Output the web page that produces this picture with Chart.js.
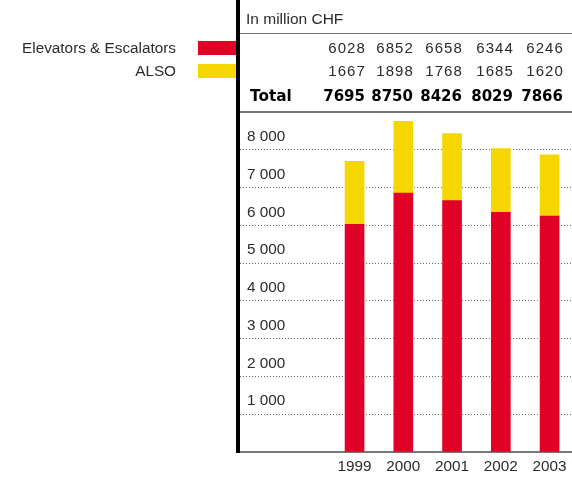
<!DOCTYPE html>
<html>
<head>
<meta charset="utf-8">
<script src="https://cdn.jsdelivr.net/npm/chart.js@4/dist/chart.umd.min.js"></script>
<style>
  html, body { margin: 0; padding: 0; background: #fff; }
  #wrap { position: relative; width: 572px; height: 477px; overflow: hidden;
          font-family: "Liberation Sans", Arial, Helvetica, sans-serif; color: #2b2b2b; }
  #chart { position: absolute; left: 0; top: 0; }
  .abs { position: absolute; white-space: nowrap; line-height: 18px; }
  .rule { position: absolute; background: #777; }
  .swatch { position: absolute; left: 198px; width: 39px; height: 14px; }
  .num { position: absolute; font-size: 15px; letter-spacing: 1.1px; text-align: right; line-height: 18px; }
  .tot { font-family: "DejaVu Sans", sans-serif; font-weight: bold; font-size: 15px; letter-spacing: 0; color: #000; }
</style>
</head>
<body>
<div id="wrap">
  <canvas id="chart" width="572" height="477"></canvas>
  <div id="table"></div>
  <div class="rule" style="left:240px; top:33px; width:332px; height:1px;"></div>
  <div class="rule" style="left:240px; top:111px; width:332px; height:2px;"></div>
  <div style="position:absolute; left:236px; top:0; width:4px; height:453px; background:#000;"></div>
</div>
<script>
// Sales by segment, in million CHF
const years = [1999, 2000, 2001, 2002, 2003];
const elevators = [6028, 6852, 6658, 6344, 6246];
const also = [1667, 1898, 1768, 1685, 1620];
const seriesNames = ['Elevators & Escalators', 'ALSO'];
const unitLabel = 'In million CHF';
const totalLabel = 'Total';

const RED = '#e10026';
const YELLOW = '#f5d600';

const totals = years.map((_, i) => elevators[i] + also[i]);

// ---- header table: legend, values per year and totals ----
const table = document.getElementById('table');
function addText(txt, style, cls) {
  const d = document.createElement('div');
  d.className = cls || 'abs';
  d.textContent = txt;
  Object.assign(d.style, style);
  table.appendChild(d);
  return d;
}
addText(unitLabel, { left: '246px', top: '10px', fontSize: '15.5px' });

const rowTops = [39, 62, 87];
const colRights = [207, 159, 110, 59, 9];
const swatchColors = [RED, YELLOW];

seriesNames.forEach((name, r) => {
  addText(name, { right: (572 - 176) + 'px', top: rowTops[r] + 'px', fontSize: '15.3px' });
  const sw = document.createElement('div');
  sw.className = 'swatch';
  sw.style.top = (rowTops[r] + 2) + 'px';
  sw.style.background = swatchColors[r];
  table.appendChild(sw);
});
addText(totalLabel, { left: '250px', top: rowTops[2] + 'px', fontSize: '15.3px' }, 'abs tot');

[elevators, also].forEach((vals, r) => {
  vals.forEach((v, i) => {
    addText(String(v), { right: (colRights[i] - 1) + 'px', top: rowTops[r] + 'px' }, 'num');
  });
});
totals.forEach((v, i) => {
  addText(String(v), { right: colRights[i] + 'px', top: rowTops[2] + 'px' }, 'num tot');
});

// ---- stacked bar chart ----
const tickFont = { family: '"Liberation Sans", Arial, sans-serif', size: 15.3, lineHeight: 1 };

new Chart(document.getElementById('chart'), {
  type: 'bar',
  data: {
    labels: years,
    datasets: [
      { label: seriesNames[0], data: elevators, backgroundColor: RED, barThickness: 19, borderWidth: 0 },
      { label: seriesNames[1], data: also, backgroundColor: YELLOW, barThickness: 19, borderWidth: 0 }
    ]
  },
  options: {
    responsive: false,
    animation: false,
    layout: { padding: { left: 226, right: 0, top: 112, bottom: 0 } },
    plugins: { legend: { display: false }, tooltip: { enabled: false } },
    scales: {
      x: {
        type: 'linear',
        stacked: true,
        offset: false,
        min: 1996.65,
        max: 2003.46,
        afterBuildTicks: (scale) => { scale.ticks = years.map(v => ({ value: v })); },
        afterFit: (scale) => { scale.height = 25; scale.paddingLeft = 0; scale.paddingRight = 0; },
        grid: { display: false, drawTicks: false },
        border: { display: true, color: '#777', width: 2 },
        ticks: {
          padding: 7,
          color: '#2b2b2b',
          font: tickFont,
          maxRotation: 0,
          autoSkip: false,
          callback: (v) => String(v)
        }
      },
      y: {
        stacked: true,
        min: 0,
        max: 9000,
        afterFit: (scale) => { scale.width = 14; scale.paddingTop = 0; scale.paddingBottom = 0; },
        grid: {
          drawTicks: false,
          lineWidth: 1,
          color: (ctx) => (ctx.tick && (ctx.tick.value === 0 || ctx.tick.value === 9000)) ? 'rgba(0,0,0,0)' : '#707070'
        },
        border: { display: false, dash: [1, 2] },
        ticks: {
          stepSize: 1000,
          mirror: true,
          padding: 7,
          labelOffset: -13,
          color: '#2b2b2b',
          font: { family: '"Liberation Sans", Arial, sans-serif', size: 15.3 },
          callback: (v) => (v === 0 || v === 9000) ? '' : (Math.floor(v / 1000) + ' 000')
        }
      }
    }
  }
});
</script>
</body>
</html>
